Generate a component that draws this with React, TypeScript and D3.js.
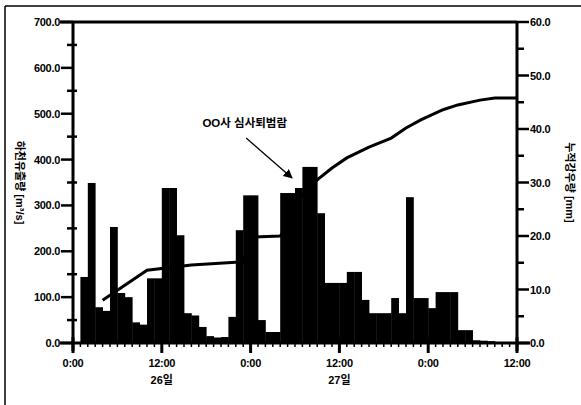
import React, { useEffect, useRef } from "react";
import * as d3 from "d3";

// hourly inflow bars (m3/s), hour 0 = 26일 0:00 .. 59
const inflow = [
  0, 144, 349, 78, 70, 253, 109, 100, 45, 40,
  141, 141, 338, 338, 235, 65, 60, 35, 15, 12,
  13, 57, 246, 322, 322, 50, 24, 24, 327, 327,
  338, 384, 384, 283, 131, 131, 131, 155, 155, 94,
  65, 65, 65, 98, 65, 318, 98, 98, 76, 111,
  111, 111, 28, 28, 6, 5, 4, 0, 0, 0,
];

// cumulative rainfall line (mm)
const rainHours = [4, 10, 16, 22, 23, 24, 28, 29, 31, 33, 35, 37, 40, 43, 45, 47, 50, 52, 55, 57, 60];
const rainValues = [8.0, 13.6, 14.6, 15.1, 15.1, 19.8, 20.0, 22.0, 27.7, 30.5, 32.7, 34.6, 36.6, 38.3, 40.2, 41.7, 43.6, 44.5, 45.4, 45.8, 45.8];

const xTickHours = [0, 12, 24, 36, 48, 60];
const xTickLabels = ["0:00", "12:00", "0:00", "12:00", "0:00", "12:00"];
const dayHours = [12, 36];
const dayLabels = ["26일", "27일"];

const leftTicks = [0, 100, 200, 300, 400, 500, 600, 700];
const rightTicks = [0, 10, 20, 30, 40, 50, 60];

const leftTitle = "하천유출량 [m³/s]";
const rightTitle = "누적강우량 [mm]";
const noteText = "OO사 심사퇴범람";

const FONT = "'Liberation Sans', 'Noto Sans CJK KR', sans-serif";

const Chart = () => {
  const ref = useRef(null);
  const W = 581;
  const H = 405;
  const left = 73;
  const right = 517;
  const top = 22;
  const bottom = 343;

  useEffect(() => {
    const svg = d3.select(ref.current);
    svg.selectAll("*").remove();

    const x = d3.scaleLinear().domain([0, 60]).range([left, right]);
    const yL = d3.scaleLinear().domain([0, 700]).range([bottom, top]);
    const yR = d3.scaleLinear().domain([0, 60]).range([bottom, top]);

    // page frame
    svg.append("line").attr("x1", 5).attr("y1", 6).attr("x2", W).attr("y2", 6)
      .attr("stroke", "#000").attr("stroke-width", 1.5);
    svg.append("line").attr("x1", 5).attr("y1", 6).attr("x2", 5).attr("y2", H)
      .attr("stroke", "#000").attr("stroke-width", 1.5);

    // bars
    svg.append("g")
      .selectAll("rect")
      .data(inflow)
      .enter()
      .append("rect")
      .attr("x", (d, i) => x(i))
      .attr("width", x(1) - x(0) + 0.4)
      .attr("y", (d) => yL(d))
      .attr("height", (d) => bottom - yL(d))
      .attr("fill", "#000");

    // cumulative line
    const line = d3.line()
      .x((d) => x(d[0]))
      .y((d) => yR(d[1]));
    svg.append("path")
      .datum(rainHours.map((h, i) => [h, rainValues[i]]))
      .attr("d", line)
      .attr("fill", "none")
      .attr("stroke", "#000")
      .attr("stroke-width", 3);

    // box
    svg.append("line").attr("x1", left - 13).attr("x2", right).attr("y1", top).attr("y2", top)
      .attr("stroke", "#000").attr("stroke-width", 3);
    svg.append("line").attr("x1", left).attr("x2", left).attr("y1", top).attr("y2", bottom + 8)
      .attr("stroke", "#000").attr("stroke-width", 3);
    svg.append("line").attr("x1", right).attr("x2", right).attr("y1", top).attr("y2", bottom + 8)
      .attr("stroke", "#000").attr("stroke-width", 3);
    svg.append("line").attr("x1", left - 13).attr("x2", right + 13).attr("y1", bottom).attr("y2", bottom)
      .attr("stroke", "#000").attr("stroke-width", 3);

    // left axis
    const gl = svg.append("g");
    leftTicks.forEach((v) => {
      gl.append("line").attr("x1", left - 12).attr("x2", left).attr("y1", yL(v)).attr("y2", yL(v))
        .attr("stroke", "#000").attr("stroke-width", 2.5);
      gl.append("text").attr("x", left - 13).attr("y", yL(v) + 4).attr("text-anchor", "end")
        .attr("font-family", FONT).attr("font-size", 11).attr("font-weight", "bold")
        .attr("letter-spacing", -0.3).text(v.toFixed(1));
    });
    d3.range(50, 700, 100).forEach((v) => {
      gl.append("line").attr("x1", left - 6).attr("x2", left + 4).attr("y1", yL(v)).attr("y2", yL(v))
        .attr("stroke", "#000").attr("stroke-width", 2.5);
    });

    // right axis
    const gr = svg.append("g");
    rightTicks.forEach((v) => {
      gr.append("line").attr("x1", right).attr("x2", right + 12).attr("y1", yR(v)).attr("y2", yR(v))
        .attr("stroke", "#000").attr("stroke-width", 2.5);
      gr.append("text").attr("x", right + 13).attr("y", yR(v) + 4).attr("text-anchor", "start")
        .attr("font-family", FONT).attr("font-size", 11).attr("font-weight", "bold")
        .attr("letter-spacing", -0.3).text(v.toFixed(1));
    });
    d3.range(5, 60, 10).forEach((v) => {
      gr.append("line").attr("x1", right).attr("x2", right + 7).attr("y1", yR(v)).attr("y2", yR(v))
        .attr("stroke", "#000").attr("stroke-width", 2.5);
    });

    // x axis
    const gx = svg.append("g");
    d3.range(1, 60).forEach((h) => {
      gx.append("line").attr("x1", x(h)).attr("x2", x(h)).attr("y1", bottom).attr("y2", bottom + 4)
        .attr("stroke", "#000").attr("stroke-width", 1.5);
    });
    xTickHours.forEach((h, i) => {
      gx.append("line").attr("x1", x(h)).attr("x2", x(h)).attr("y1", bottom - 6).attr("y2", bottom + 10)
        .attr("stroke", "#000").attr("stroke-width", 3);
      gx.append("text").attr("x", x(h)).attr("y", bottom + 24).attr("text-anchor", "middle")
        .attr("font-family", FONT).attr("font-size", 11).attr("font-weight", "bold")
        .attr("letter-spacing", -0.3).text(xTickLabels[i]);
    });
    dayHours.forEach((h, i) => {
      gx.append("text").attr("x", x(h)).attr("y", bottom + 41).attr("text-anchor", "middle")
        .attr("font-family", FONT).attr("font-size", 11).attr("font-weight", "bold")
        .text(dayLabels[i]);
    });

    // axis titles
    svg.append("text")
      .attr("transform", `translate(20,${(top + bottom) / 2}) rotate(90)`)
      .attr("text-anchor", "middle").attr("dy", "0.35em")
      .attr("font-family", FONT).attr("font-size", 11).attr("font-weight", "bold")
      .text(leftTitle);
    svg.append("text")
      .attr("transform", `translate(570,${(top + bottom) / 2}) rotate(90)`)
      .attr("text-anchor", "middle").attr("dy", "0.35em")
      .attr("font-family", FONT).attr("font-size", 11).attr("font-weight", "bold")
      .text(rightTitle);

    // annotation
    svg.append("defs").append("marker")
      .attr("id", "arrowhead").attr("viewBox", "0 0 10 10")
      .attr("refX", 9).attr("refY", 5)
      .attr("markerWidth", 7).attr("markerHeight", 7)
      .attr("markerUnits", "strokeWidth")
      .attr("orient", "auto")
      .append("path").attr("d", "M0,0L10,5L0,10z").attr("fill", "#000");
    svg.append("text")
      .attr("x", x(23.2)).attr("y", yL(470))
      .attr("text-anchor", "middle")
      .attr("font-family", FONT).attr("font-size", 11.5).attr("font-weight", "bold")
      .text(noteText);
    svg.append("line")
      .attr("x1", x(23.4)).attr("y1", yL(447))
      .attr("x2", x(29.6)).attr("y2", yL(360))
      .attr("stroke", "#000").attr("stroke-width", 1.3)
      .attr("marker-end", "url(#arrowhead)");
  }, []);

  return (
    <svg
      ref={ref}
      width={W}
      height={H}
      style={{ position: "absolute", left: 0, top: 0, background: "#fff" }}
    />
  );
};

export default function App() {
  return <Chart />;
}
